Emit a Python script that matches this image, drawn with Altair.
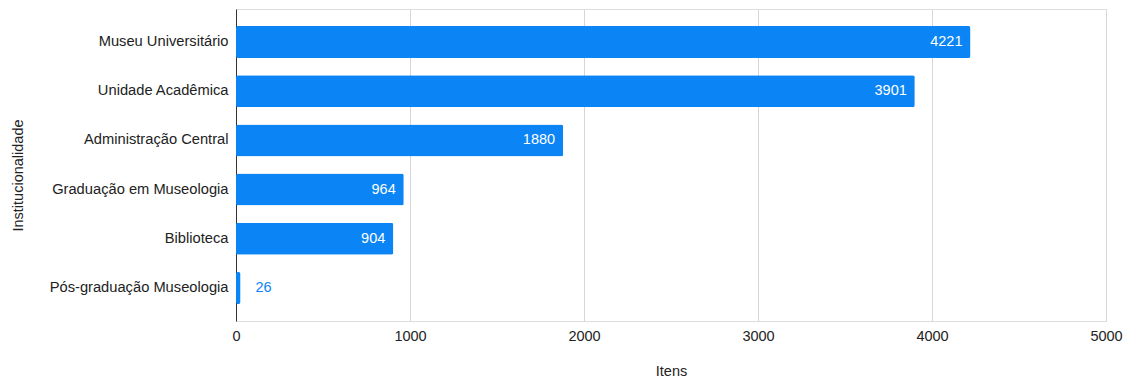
import altair as alt
import pandas as pd

categories = [
    "Museu Universitário",
    "Unidade Acadêmica",
    "Administração Central",
    "Graduação em Museologia",
    "Biblioteca",
    "Pós-graduação Museologia",
]
values = [4221, 3901, 1880, 964, 904, 26]
x_ticks = [0, 1000, 2000, 3000, 4000, 5000]

df = pd.DataFrame({"cat": categories, "val": values})

BLUE = "#0b84f5"
FONT = "Liberation Sans"

y_enc = alt.Y(
    "cat:N",
    sort=categories,
    title="Institucionalidade",
    scale=alt.Scale(paddingInner=0.35, paddingOuter=0.345),
    axis=alt.Axis(
        domain=True, domainColor="#333333", domainWidth=1,
        ticks=False, labelPadding=8, labelFontSize=14.7, labelColor="#222222",
        labelFont=FONT, titleFont=FONT, titleFontSize=14.5, titleFontWeight="normal",
        titleColor="#222222", titleAngle=270, titleX=-218, titleY=166,
        titleAlign="center", titleBaseline="middle", grid=False,
    ),
)
x_enc = alt.X(
    "val:Q",
    title="Itens",
    scale=alt.Scale(domain=[0, 5000], nice=False),
    axis=alt.Axis(
        values=x_ticks, domain=False, ticks=False, grid=True,
        gridColor="#d6d6d6", gridWidth=1, labelPadding=8, labelFlush=False,
        labelFontSize=14.5, labelColor="#222222", labelFont=FONT,
        titleFont=FONT, titleFontSize=14.5, titleFontWeight="normal",
        titleColor="#222222", titleY=50, titleBaseline="middle",
        format="d",
    ),
)

base = alt.Chart(df)
bars = base.mark_bar(color=BLUE, cornerRadius=2).encode(x=x_enc, y=y_enc)
inside = base.transform_filter("datum.val >= 100").mark_text(
    align="right", baseline="middle", dx=-8, color="white",
    font=FONT, fontSize=14.5, fontWeight=500,
).encode(x="val:Q", y=alt.Y("cat:N", sort=categories), text="val:Q")
outside = base.transform_filter("datum.val < 100").mark_text(
    align="left", baseline="middle", dx=15, color=BLUE,
    font=FONT, fontSize=14.5, fontWeight=500,
).encode(x="val:Q", y=alt.Y("cat:N", sort=categories), text="val:Q")

chart = alt.layer(bars, inside, outside).properties(
    width=870, height=312,
    autosize=alt.AutoSizeParams(type="none"),
    padding={"left": 228, "top": 1, "right": 20, "bottom": 58},
).configure_view(strokeWidth=0, stroke="transparent").configure(background="white")

chart.save("out.html", embed_options={"renderer": "svg", "actions": False})
